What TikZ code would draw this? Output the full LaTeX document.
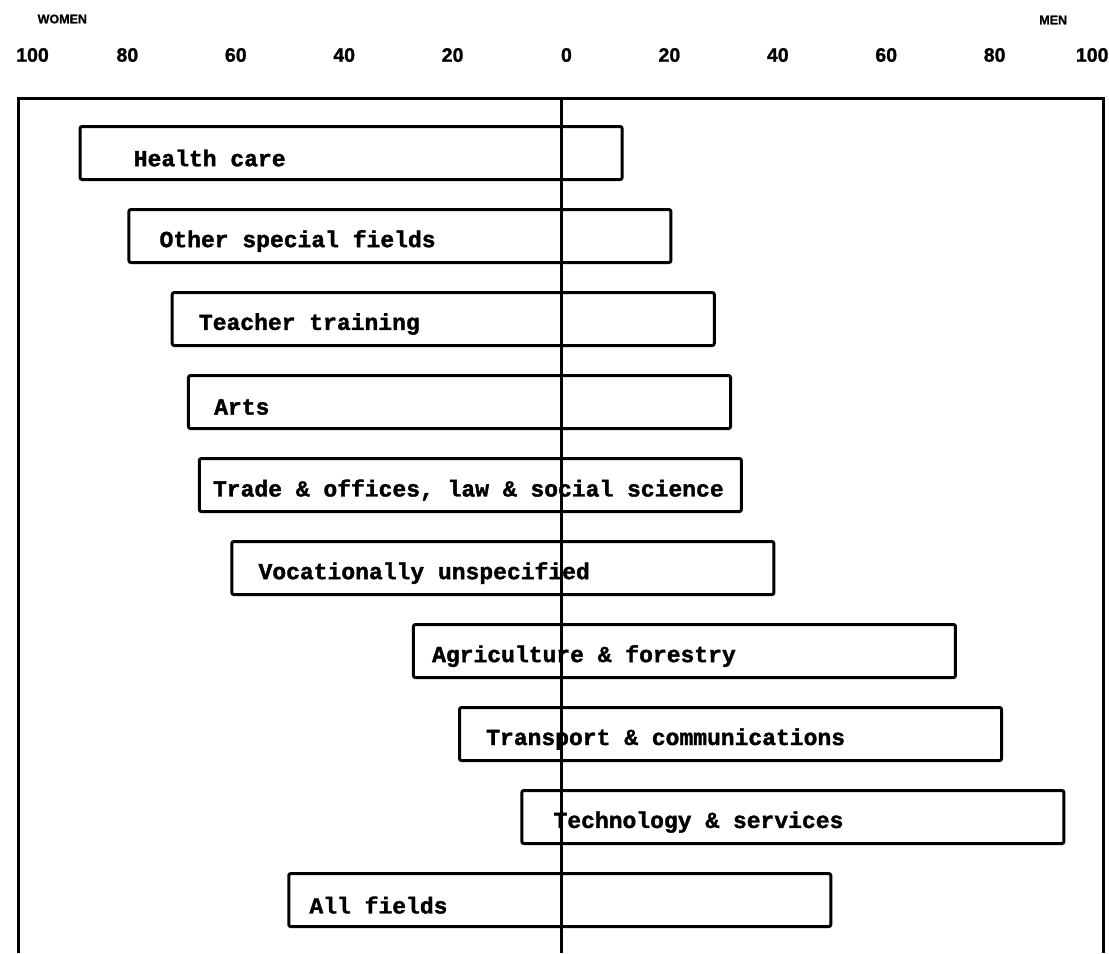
\documentclass[tikz,border=0pt]{standalone}
\usepackage{fontspec}
\setmainfont{Liberation Sans}[BoldFeatures={FakeBold=1.2}]
\newfontfamily\barfont{Liberation Mono}[BoldFeatures={FakeBold=1.6}]
\usepackage{tikz}
\usetikzlibrary{positioning}

\begin{document}
\begin{tikzpicture}[x=5.42pt,y=-1pt,
        bar/.style={draw, line width=3pt, rounded corners=2pt, minimum width=542pt,
            minimum height=53pt, inner sep=0pt, anchor=west},
        barlabel/.style={font=\barfont\bfseries\fontsize{23}{23}\selectfont, anchor=west, inner sep=0pt},
        ticklabel/.style={font=\bfseries\fontsize{19.5}{20}\selectfont, inner sep=0pt},
        sexlabel/.style={font=\bfseries\fontsize{12.5}{13}\selectfont, inner sep=0pt}]
        \useasboundingbox (-103.5,0) rectangle (101.1,953);
        % sex labels
        \node[sexlabel] (women) at (-92,19) {WOMEN};
        \node[sexlabel] (men) at (90.8,20) {MEN};
        % scale
        \foreach \x/\v [count=\i] in {-97.5/100,-80/80,-60/60,-40/40,-20/20,1/0,20/20,40/40,60/60,80/80,98/100}
            \node[ticklabel] (tick\i) at (\x,55) {\v};
        % frame, open at the bottom
        \draw[line width=3pt] (-100,953) -- (-100,98) -- (100,98) -- (100,953);
        % one bar per field: women share / label offset / label
        \foreach \w/\off/\txt [count=\i] in {
                89/55/{Health care},
                80/32/{Other special fields},
                72/28/{Teacher training},
                69/27/{Arts},
                67/15/{Trade \& offices, law \& social science},
                61/28/{Vocationally unspecified},
                27.5/20/{Agriculture \& forestry},
                19/28/{Transport \& communications},
                7.5/33/{Technology \& services},
                50.5/22/{All fields}} {
            \node[bar] (bar\i) at (-\w,{153+83*(\i-1)}) {};
            \node[barlabel] (lbl\i) at ([xshift=\off pt, yshift=-5pt]bar\i.west) {\txt};
        }
        % zero line
        \coordinate (ztop) at (0,98);
        \coordinate (zbot) at (0,953);
        \draw[line width=3pt] (ztop) -- (zbot);
\end{tikzpicture}
\end{document}
